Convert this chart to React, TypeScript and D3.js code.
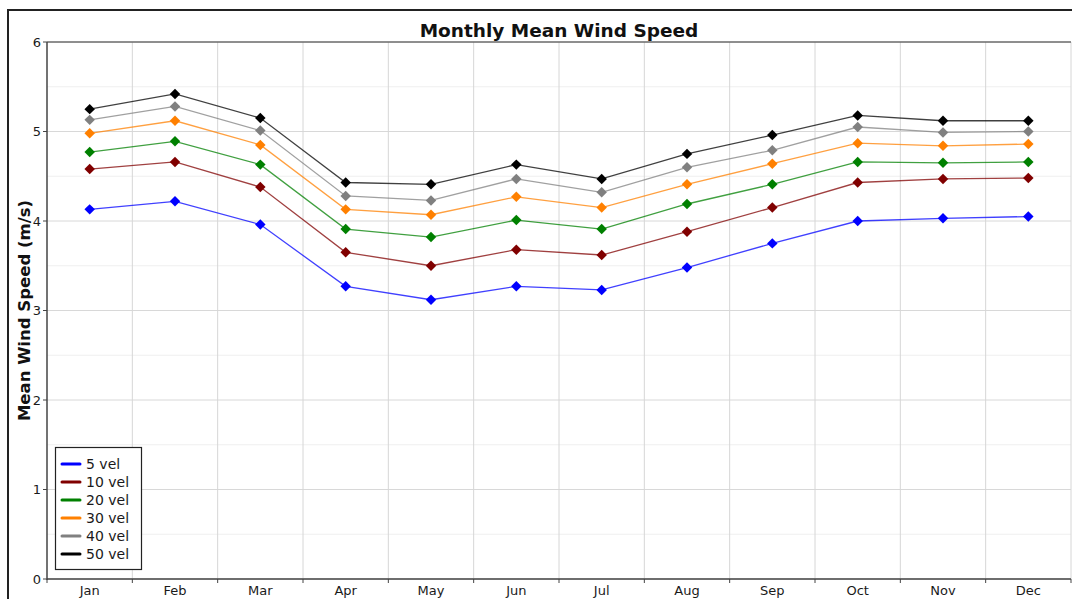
import React from "react";
import * as d3 from "d3";

const months = ["Jan", "Feb", "Mar", "Apr", "May", "Jun", "Jul", "Aug", "Sep", "Oct", "Nov", "Dec"];
const seriesNames = ["5 vel", "10 vel", "20 vel", "30 vel", "40 vel", "50 vel"];
const seriesColors = ["#0000ff", "#800000", "#008000", "#ff8000", "#808080", "#000000"];
const vel5 = [4.13, 4.22, 3.96, 3.27, 3.12, 3.27, 3.23, 3.48, 3.75, 4.0, 4.03, 4.05];
const vel10 = [4.58, 4.66, 4.38, 3.65, 3.5, 3.68, 3.62, 3.88, 4.15, 4.43, 4.47, 4.48];
const vel20 = [4.77, 4.89, 4.63, 3.91, 3.82, 4.01, 3.91, 4.19, 4.41, 4.66, 4.65, 4.66];
const vel30 = [4.98, 5.12, 4.85, 4.13, 4.07, 4.27, 4.15, 4.41, 4.64, 4.87, 4.84, 4.86];
const vel40 = [5.13, 5.28, 5.01, 4.28, 4.23, 4.47, 4.32, 4.6, 4.79, 5.05, 4.99, 5.0];
const vel50 = [5.25, 5.42, 5.15, 4.43, 4.41, 4.63, 4.47, 4.75, 4.96, 5.18, 5.12, 5.12];
const yTicks = [0, 1, 2, 3, 4, 5, 6];
const yMinor = [0.5, 1.5, 2.5, 3.5, 4.5, 5.5];

const allSeries = [vel5, vel10, vel20, vel30, vel40, vel50];

const W = 1072;
const H = 599;
const left = 47;
const right = 1071;
const top = 42;
const bottom = 579;
const FONT = "'DejaVu Sans', Verdana, sans-serif";

export default function App() {
  const x = d3.scaleBand<string>().domain(months).range([left, right]).padding(0);
  const y = d3.scaleLinear().domain([0, 6]).range([bottom, top]);
  const cx = (m: string) => (x(m) ?? 0) + x.bandwidth() / 2;
  const line = d3
    .line<number>()
    .x((_, i) => cx(months[i]))
    .y((v) => y(v));
  const symType = (d3 as any).symbolDiamond2 || d3.symbolDiamond;
  const diamond = d3.symbol().type(symType).size(70)() as string;
  const boundaries = months.map((m) => x(m) ?? 0).slice(1).concat([right]);

  return (
    <svg
      width={W}
      height={H}
      style={{ position: "fixed", left: 0, top: 0, background: "#fff" }}
      fontFamily={FONT}
    >
      <rect x={0} y={0} width={W} height={H} fill="#fff" />
      {/* outer frame */}
      <rect x={8} y={10} width={1120} height={640} fill="none" stroke="#222" strokeWidth={2} />
      {/* title */}
      <text x={559} y={37} textAnchor="middle" fontSize={18.5} fontWeight="bold" fill="#111">
        Monthly Mean Wind Speed
      </text>
      {/* minor grid */}
      {yMinor.map((v) => (
        <line key={"mn" + v} x1={left} x2={right} y1={y(v)} y2={y(v)} stroke="#efefef" strokeWidth={1} />
      ))}
      {/* major grid */}
      {yTicks.map((v) => (
        <line key={"mj" + v} x1={left} x2={right} y1={y(v)} y2={y(v)} stroke="#d8d8d8" strokeWidth={1} />
      ))}
      {/* vertical grid */}
      {boundaries.map((b, i) => (
        <line key={"vg" + i} x1={b} x2={b} y1={top} y2={bottom} stroke="#d6d6d6" strokeWidth={1} />
      ))}
      {/* top border */}
      <line x1={left} x2={right} y1={top} y2={top} stroke="#333" strokeWidth={1.2} />
      {/* axes */}
      <line x1={left} x2={left} y1={top} y2={bottom + 1} stroke="#444" strokeWidth={1.5} />
      <line x1={left} x2={right} y1={bottom} y2={bottom} stroke="#444" strokeWidth={1.5} />
      {yTicks.map((v) => (
        <g key={"yt" + v}>
          <line x1={left - 4} x2={left} y1={y(v)} y2={y(v)} stroke="#444" strokeWidth={1} />
          <text x={left - 6} y={y(v) + 4.5} textAnchor="end" fontSize={13} fill="#1a1a1a">
            {v}
          </text>
        </g>
      ))}
      {[left].concat(boundaries).map((b, i) => (
        <line key={"xt" + i} x1={b} x2={b} y1={bottom} y2={bottom + 4} stroke="#444" strokeWidth={1} />
      ))}
      {months.map((m) => (
        <text key={"xl" + m} x={cx(m)} y={bottom + 16} textAnchor="middle" fontSize={13} fill="#1a1a1a">
          {m}
        </text>
      ))}
      {/* y label */}
      <text
        transform={`translate(30, ${(top + bottom) / 2}) rotate(-90)`}
        textAnchor="middle"
        fontSize={16.5}
        fontWeight="bold"
        fill="#111"
      >
        Mean Wind Speed (m/s)
      </text>
      {/* series */}
      {allSeries.map((vals, si) => (
        <g key={"s" + si}>
          <path d={line(vals) as string} fill="none" stroke={seriesColors[si]} strokeWidth={1.3} strokeOpacity={0.75} />
          {vals.map((v, i) => (
            <path key={i} d={diamond} transform={`translate(${cx(months[i])},${y(v)})`} fill={seriesColors[si]} />
          ))}
        </g>
      ))}
      {/* legend */}
      <rect x={55.5} y={447.5} width={86} height={122} fill="#fff" stroke="#222" strokeWidth={1.2} />
      {seriesNames.map((n, i) => (
        <g key={"lg" + i}>
          <line x1={62} x2={80} y1={464 + i * 18} y2={464 + i * 18} stroke={seriesColors[i]} strokeWidth={3} strokeLinecap="round" />
          <text x={86} y={469 + i * 18} fontSize={14} fill="#1a1a1a">
            {n}
          </text>
        </g>
      ))}
    </svg>
  );
}
